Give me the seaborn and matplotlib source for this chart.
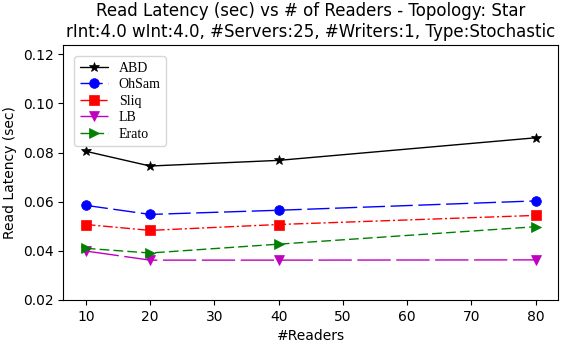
import pandas as pd
import matplotlib
matplotlib.use("Agg")
import matplotlib.pyplot as plt
import seaborn as sns

# read latency per protocol, star topology
readers = [10, 20, 40, 80]
abd = [0.0805, 0.0745, 0.0768, 0.0860]
ohsam = [0.0585, 0.0548, 0.0565, 0.0603]
sliq = [0.0507, 0.0483, 0.0507, 0.0544]
lb = [0.0399, 0.0362, 0.0362, 0.0363]
erato = [0.0410, 0.0391, 0.0427, 0.0498]

names = ['ABD', 'OhSam', 'Sliq', 'LB', 'Erato']
series = [abd, ohsam, sliq, lb, erato]

rows = []
for n, vals in zip(names, series):
    for r, v in zip(readers, vals):
        rows.append({'readers': r, 'latency': v, 'algo': n})
df = pd.DataFrame(rows)

sns.set_style("ticks")
plt.rcParams['font.family'] = ['DejaVu Sans']
plt.rcParams['text.color'] = 'black'
plt.rcParams['axes.labelcolor'] = 'black'
plt.rcParams['xtick.color'] = 'black'
plt.rcParams['ytick.color'] = 'black'
plt.rcParams['axes.edgecolor'] = 'black'

colors = {'ABD': 'black', 'OhSam': 'blue', 'Sliq': 'red', 'LB': 'm', 'Erato': 'green'}
marks = {'ABD': '*', 'OhSam': 'o', 'Sliq': 's', 'LB': 'v', 'Erato': '>'}
dash = {'ABD': '', 'OhSam': (16, 4), 'Sliq': (7, 2, 1.5, 2), 'LB': (24, 4), 'Erato': (7, 3)}

fig, ax = plt.subplots(figsize=(5.65, 3.42), dpi=100)
sns.lineplot(data=df, x='readers', y='latency', hue='algo', style='algo',
             hue_order=names, style_order=names, palette=colors,
             markers=marks, dashes=dash, markersize=7, linewidth=1,
             legend=False, ax=ax)
for ln in ax.lines:
    ln.set_markeredgecolor(ln.get_color())
    ln.set_markeredgewidth(0.5)

ax.legend(ax.lines[:5], names, loc='upper left', labelspacing=0.25,
          borderaxespad=0.8, prop={'family': 'Liberation Serif', 'size': 10})

ax.set_ylim(0.02, 0.1237)
ax.set_yticks([0.02, 0.04, 0.06, 0.08, 0.10, 0.12])
ax.set_xlabel('#Readers')
ax.set_ylabel('Read Latency (sec)')
ax.set_title('Read Latency (sec) vs # of Readers - Topology: Star\n'
             'rInt:4.0 wInt:4.0, #Servers:25, #Writers:1, Type:Stochastic',
             fontsize=12)
for s in ax.spines.values():
    s.set_visible(True)

fig.subplots_adjust(left=0.112, right=0.988, bottom=0.123, top=0.868)
fig.savefig('out.png')
